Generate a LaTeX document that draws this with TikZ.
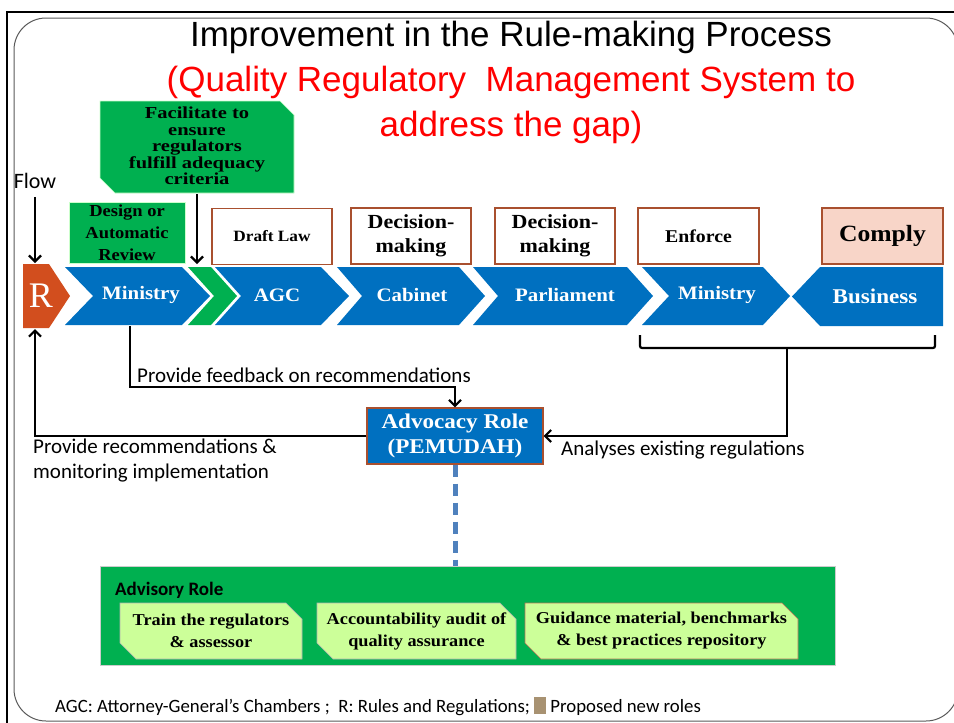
\documentclass[tikz,border=0pt]{standalone}
\usepackage{fontspec}
\setmainfont{Liberation Serif}
\newfontfamily\bookf[FakeStretch=1.1]{Liberation Serif}
\newfontfamily\bookw[FakeStretch=1.22]{Liberation Serif}
\newfontfamily\calf{Carlito}
\newfontfamily\arialf{Liberation Sans}
\usetikzlibrary{arrows.meta,shapes.misc}
\definecolor{cblue}{HTML}{0070C0}
\definecolor{cgreen}{HTML}{00B050}
\definecolor{corange}{HTML}{D24E1E}
\definecolor{cbrown}{HTML}{A9502F}
\definecolor{cpink}{HTML}{F8D5C8}
\definecolor{clight}{HTML}{CCFF99}
\definecolor{ctan}{HTML}{A89272}
\definecolor{cdash}{HTML}{4F81BD}
\begin{document}
\begin{tikzpicture}[x=1pt,y=-1pt,
  chevtxt/.style={text=white, font=\bookf\bfseries\fontsize{19}{19}\selectfont},
  lblbox/.style={draw=cbrown, line width=1.2, fill=white, inner sep=0, align=center,
     minimum height=56},
  gbox/.style={fill=cgreen, draw=green!20!white, line width=0.6, inner sep=0, align=center},
  lgbox/.style={chamfered rectangle, chamfered rectangle corners={north east,south west},
     chamfered rectangle xsep=8, chamfered rectangle ysep=8,
     fill=clight, draw=gray!60, line width=0.6, inner sep=0, align=center,
     minimum height=56, font=\bookf\bfseries\fontsize{16.6}{22}\selectfont},
  arr/.style={line width=2.2, -{Straight Barb[length=6pt,width=12pt,line width=2.2pt]}},
  plain/.style={line width=2.2},
  lab/.style={font=\calf\fontsize{21}{25}\selectfont, inner sep=0, align=left}
]
\useasboundingbox (0,0) rectangle (954,723);
% frames
\draw[gray!70!black, line width=1] (14,18) [rounded corners=32] rectangle (958,721);
\draw[line width=2.5] (7,740) -- (7,12) -- (960,12);

% titles
\node[font=\arialf\fontsize{35}{35}\selectfont, inner sep=0] (title) at (511,37) {Improvement in the Rule-making Process};
\node[font=\arialf\fontsize{35}{35}\selectfont, text=red, inner sep=0] (sub1) at (511,82) {(Quality Regulatory\ \ Management System to};
\node[font=\arialf\fontsize{35}{35}\selectfont, text=red, inner sep=0] (sub2) at (511,127) {address the gap)};

% chevrons
\fill[corange] (23,264) -- (49,264) -- (70,296) -- (49,328) -- (23,328) -- cycle;
\fill[cblue] (65,267) -- (182,267) -- (210,296) -- (182,325) -- (65,325) -- (93,296) -- cycle;
\fill[cgreen] (188,267) -- (211,267) -- (237,296) -- (211,325) -- (188,325) -- (214,296) -- cycle;
\fill[cblue] (215,267) -- (321,267) -- (349,296) -- (321,325) -- (215,325) -- (241,296) -- cycle;
\fill[cblue] (337,267) -- (459,267) -- (485,296) -- (459,325) -- (337,325) -- (362,296) -- cycle;
\fill[cblue] (473,267) -- (627,267) -- (653,296) -- (627,325) -- (473,325) -- (498,296) -- cycle;
\fill[cblue] (642,267) -- (763,267) -- (790,296) -- (763,325) -- (642,325) -- (669,296) -- cycle;
\fill[cblue] (820,267) -- (943,267) -- (943,326) -- (820,326) -- (792,296.5) -- cycle;

\node[text=white, font=\fontsize{36}{36}\selectfont, inner sep=0] (R) at (41,296) {R};
\node[chevtxt] (min1) at (141,295) {Ministry};
\node[chevtxt] (agc) at (277,295) {AGC};
\node[chevtxt] (cab) at (412,295) {Cabinet};
\node[chevtxt] (parl) at (565,295) {Parliament};
\node[chevtxt] (min2) at (717,295) {Ministry};
\node[chevtxt, font=\bookf\bfseries\fontsize{21}{21}\selectfont] (bus) at (875,296) {Business};

\coordinate (Rtop) at (35,263);
\coordinate (Rbot) at (35,329);
\coordinate (grtop) at (197,264);
\coordinate (min1b) at (130,326);

% label boxes
\node[lblbox, minimum width=120, font=\bookf\bfseries\fontsize{15.7}{18}\selectfont] (dl) at (272,236.5) {Draft Law};
\node[lblbox, minimum width=120, font=\bookf\bfseries\fontsize{20}{24}\selectfont] (dm1) at (411,236) {Decision-\\making};
\node[lblbox, minimum width=120, font=\bookf\bfseries\fontsize{20}{24}\selectfont] (dm2) at (555,236) {Decision-\\making};
\node[lblbox, minimum width=121, font=\bookf\bfseries\fontsize{18}{18}\selectfont] (enf) at (698.5,236) {Enforce};
\node[lblbox, minimum width=121, fill=cpink, font=\bookf\bfseries\fontsize{23.3}{24}\selectfont] (com) at (882.5,236) {Comply};

% green boxes
\node[gbox, minimum width=116, minimum height=61, font=\bookf\bfseries\fontsize{16.8}{22}\selectfont] (des) at (127,232.5) {Design or\\Automatic\\Review};
\fill[cgreen, draw=green!20!white, line width=0.6] (100,101) -- (280,101) -- (294,115) -- (294,193) -- (115,193) -- (100,178) -- cycle;
\node[inner sep=0, minimum width=194, minimum height=92, align=center,
  font=\bookw\bfseries\fontsize{16.8}{16.4}\selectfont] (fac) at (197,146)
  {Facilitate to\\ensure\\regulators\\fulfill adequacy\\criteria};

% flow
\node[lab, font=\calf\fontsize{22}{22}\selectfont] (flow) at (35,181) {Flow};
\draw[arr] (flow.south) ++(0,8) -- (Rtop);
\draw[arr] (fac.south) ++(0,2) -- (grtop);

% advocacy
\node[fill=cblue, draw=cbrown, line width=1.2, minimum width=176, minimum height=56, inner sep=0,
  text=white, align=center, font=\bookf\bfseries\fontsize{21}{25}\selectfont] (adv) at (455,436)
  {Advocacy Role\\(PEMUDAH)};

\draw[arr] (min1b) -- ++(0,61) -| (adv.north);
\draw[arr] (adv.west) -| (Rbot);
\coordinate (brL) at (640,335);
\coordinate (brR) at (935,335);
\coordinate (brM) at (787,348);
\draw[plain, rounded corners=2] (brL) |- (brM) -| (brR);
\draw[arr] (brM) |- (adv.east);

\node[lab, anchor=west] (fb) at (137,375) {Provide feedback on recommendations};
\node[lab, anchor=north west] (rec) at (33,439) {Provide recommendations \&\\monitoring implementation};
\node[lab, anchor=west] (ana) at (561,450) {Analyses existing regulations};

% advisory
\node[fill=cgreen, draw=gray!40, line width=0.6, minimum width=735, minimum height=99, inner sep=0] (advis) at (467.5,615.5) {};
\draw[cdash, line width=5, dash pattern=on 12pt off 7pt] (adv.south) -- (adv.south |- advis.north);
\node[font=\calf\bfseries\fontsize{19}{19}\selectfont, anchor=west, inner sep=0] (advt) at (115,590) {Advisory Role};
\node[lgbox, minimum width=182] (t1) at (211,631) {Train the regulators\\\& assessor};
\node[lgbox, minimum width=199] (t2) at (416.5,631) {Accountability audit of\\quality assurance};
\node[lgbox, minimum width=273, draw=cbrown!80] (t3) at (661.5,631) {Guidance material, benchmarks\\\& best practices repository};

% footer
\node[font=\calf\fontsize{18.8}{19}\selectfont, anchor=base west, inner sep=0] (foot) at (55,712)
  {AGC: Attorney-General’s Chambers ;\ \ R: Rules and Regulations;\ {\color{ctan}\rule[-2pt]{12pt}{17pt}}\ Proposed new roles};
\end{tikzpicture}
\end{document}
